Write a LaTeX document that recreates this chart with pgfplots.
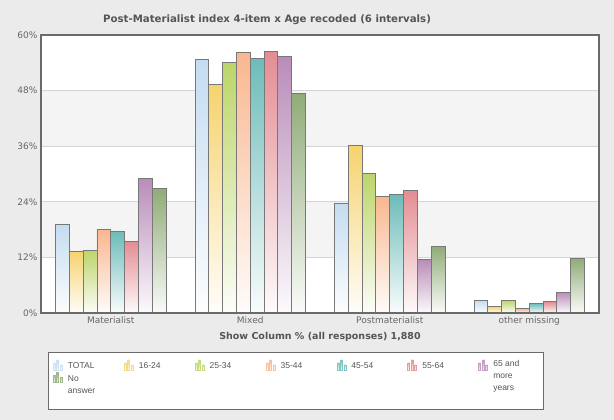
\documentclass[border=0pt]{standalone}
\usepackage{pgfplots}
\pgfplotsset{compat=1.18}
\usepackage{fontspec}
\setmainfont{DejaVu Sans}
\newfontfamily\legfont{Liberation Sans}
\definecolor{bgc}{HTML}{EBEBEB}
\definecolor{band}{HTML}{F4F4F4}
\definecolor{gridc}{HTML}{D4D4D4}
\definecolor{framec}{HTML}{6A6A6A}
\definecolor{barc}{HTML}{787878}
\definecolor{txt}{HTML}{666666}
\definecolor{ttl}{HTML}{555555}
\definecolor{cA}{HTML}{C5DCF0}
\definecolor{cB}{HTML}{F6D36F}
\definecolor{cC}{HTML}{BCD56A}
\definecolor{cD}{HTML}{F9B78F}
\definecolor{cE}{HTML}{6DBCB9}
\definecolor{cF}{HTML}{E38D93}
\definecolor{cG}{HTML}{B98DB9}
\definecolor{cH}{HTML}{90AC78}
\pgfplotsset{
 layers/mine/.define layer set={picbg,axis background,axis grid,axis ticks,axis tick labels,pre main,main,axis lines,axis descriptions,axis foreground}{
  grid style={/pgfplots/on layer=axis grid},
  tick style={/pgfplots/on layer=axis ticks},
  axis line style={/pgfplots/on layer=axis lines},
  label style={/pgfplots/on layer=axis descriptions},
  legend style={/pgfplots/on layer=axis descriptions},
  title style={/pgfplots/on layer=axis descriptions},
  colorbar style={/pgfplots/on layer=axis descriptions},
  ticklabel style={/pgfplots/on layer=axis tick labels},
  axis background@ style={/pgfplots/on layer=axis background},
  3d box foreground style={/pgfplots/on layer=axis foreground},
 },
 mybar/.style 2 args={bar shift=#2, top color=#1, bottom color=#1!4!white,
   legend image code/.code={%
    \fill[#1!85!white] (0pt,-1pt) rectangle (2pt,6pt)
       (3.5pt,-1pt) rectangle (5.5pt,9pt)
       (7pt,-1pt) rectangle (9pt,4pt);}},
}
\newcommand\LE[2]{\parbox[t]{#1}{#2}}
\begin{document}
\begin{tikzpicture}[x=1pt,y=1pt]
\pgfplotsset{set layers=mine}
\begin{pgfonlayer}{picbg}
\fill[bgc] (0,0) rectangle (614,420);
\end{pgfonlayer}
\begin{axis}[
  at={(41pt,107pt)}, anchor=south west,
  scale only axis, width=558pt, height=278pt,
  xmin=-0.5, xmax=3.5, ymin=0, ymax=60,
  ybar=0pt, bar width=13.8pt,
  xtick={0,1,2,3},
  xticklabels={Materialist,Mixed,Postmaterialist,other missing},
  ytick={0,12,24,36,48,60},
  yticklabel={\pgfmathprintnumber{\tick}\%},
  /pgf/number format/assume math mode=true,
  major tick length=0pt,
  ymajorgrids, grid style={gridc, line width=0.8pt},
  axis line style={framec, line width=1.8pt},
  ticklabel style={font=\fontsize{9}{10}\selectfont, text=txt},
  xlabel={Show Column \% (all responses) 1,880},
  xlabel style={font=\bfseries\fontsize{9.5}{11}\selectfont, text=ttl},
  axis background/.style={fill=white},
  legend columns=7,
  legend style={at={(0.01254,-0.1403)}, anchor=north west,
    draw=framec, line width=1pt, fill=white,
    font=\legfont\fontsize{8.5}{12}\selectfont, text=ttl,
    inner xsep=4.5pt, inner ysep=7pt,
    nodes={inner sep=1.5pt, text depth=},
    cells={anchor=base west},
    /tikz/column sep=0pt, /tikz/row sep=1.8pt,
    /tikz/every odd column/.append style={column sep=3.5pt},
    /tikz/every even column/.append style={column sep=0pt},
  },
  every axis plot/.append style={draw=barc, line width=0.9pt},
]
\begin{pgfonlayer}{axis background}
\fill[band] (axis cs:-0.5,12) rectangle (axis cs:3.5,24);
\fill[band] (axis cs:-0.5,36) rectangle (axis cs:3.5,48);
\end{pgfonlayer}
% TOTAL
\addplot[mybar={cA}{-48.3pt}] coordinates {(0,19.1)};
\addlegendentry{\LE{54.5pt}{TOTAL}}
\addplot[mybar={cA}{-48.3pt}, forget plot] coordinates {(1,54.8)};
\addplot[mybar={cA}{-48.3pt}, forget plot] coordinates {(2,23.6)};
\addplot[mybar={cA}{-48.3pt}, forget plot] coordinates {(3,2.7)};
% 16-24
\addplot[mybar={cB}{-34.5pt}] coordinates {(0,13.3)};
\addlegendentry{\LE{54.5pt}{16-24}}
\addplot[mybar={cB}{-34.5pt}, forget plot] coordinates {(1,49.3)};
\addplot[mybar={cB}{-34.5pt}, forget plot] coordinates {(2,36.2)};
\addplot[mybar={cB}{-34.5pt}, forget plot] coordinates {(3,1.4)};
% 25-34
\addplot[mybar={cC}{-20.7pt}] coordinates {(0,13.5)};
\addlegendentry{\LE{54.5pt}{25-34}}
\addplot[mybar={cC}{-20.7pt}, forget plot] coordinates {(1,54.0)};
\addplot[mybar={cC}{-20.7pt}, forget plot] coordinates {(2,30.1)};
\addplot[mybar={cC}{-20.7pt}, forget plot] coordinates {(3,2.7)};
% 35-44
\addplot[mybar={cD}{-6.9pt}] coordinates {(0,18.0)};
\addlegendentry{\LE{54.5pt}{35-44}}
\addplot[mybar={cD}{-6.9pt}, forget plot] coordinates {(1,56.2)};
\addplot[mybar={cD}{-6.9pt}, forget plot] coordinates {(2,25.2)};
\addplot[mybar={cD}{-6.9pt}, forget plot] coordinates {(3,0.9)};
% 45-54
\addplot[mybar={cE}{6.9pt}] coordinates {(0,17.5)};
\addlegendentry{\LE{54.5pt}{45-54}}
\addplot[mybar={cE}{6.9pt}, forget plot] coordinates {(1,55.0)};
\addplot[mybar={cE}{6.9pt}, forget plot] coordinates {(2,25.5)};
\addplot[mybar={cE}{6.9pt}, forget plot] coordinates {(3,2.1)};
% 55-64
\addplot[mybar={cF}{20.7pt}] coordinates {(0,15.4)};
\addlegendentry{\LE{54.5pt}{55-64}}
\addplot[mybar={cF}{20.7pt}, forget plot] coordinates {(1,56.4)};
\addplot[mybar={cF}{20.7pt}, forget plot] coordinates {(2,26.5)};
\addplot[mybar={cF}{20.7pt}, forget plot] coordinates {(3,2.4)};
% 65 and more years
\addplot[mybar={cG}{34.5pt}] coordinates {(0,29.1)};
\addlegendentry{\smash{\raisebox{2pt}{\LE{44pt}{65 and\\more\\years}}}}
\addplot[mybar={cG}{34.5pt}, forget plot] coordinates {(1,55.3)};
\addplot[mybar={cG}{34.5pt}, forget plot] coordinates {(2,11.5)};
\addplot[mybar={cG}{34.5pt}, forget plot] coordinates {(3,4.5)};
% No answer
\addplot[mybar={cH}{48.3pt}] coordinates {(0,26.8)};
\addlegendentry{\LE{54.5pt}{No\\answer\rule[-7pt]{0pt}{0pt}}}
\addplot[mybar={cH}{48.3pt}, forget plot] coordinates {(1,47.3)};
\addplot[mybar={cH}{48.3pt}, forget plot] coordinates {(2,14.4)};
\addplot[mybar={cH}{48.3pt}, forget plot] coordinates {(3,11.8)};
\end{axis}
\node[font=\bfseries\fontsize{10.2}{12}\selectfont, text=ttl] at (267,400) {Post-Materialist index 4-item x Age recoded (6 intervals)};
\end{tikzpicture}
\end{document}
